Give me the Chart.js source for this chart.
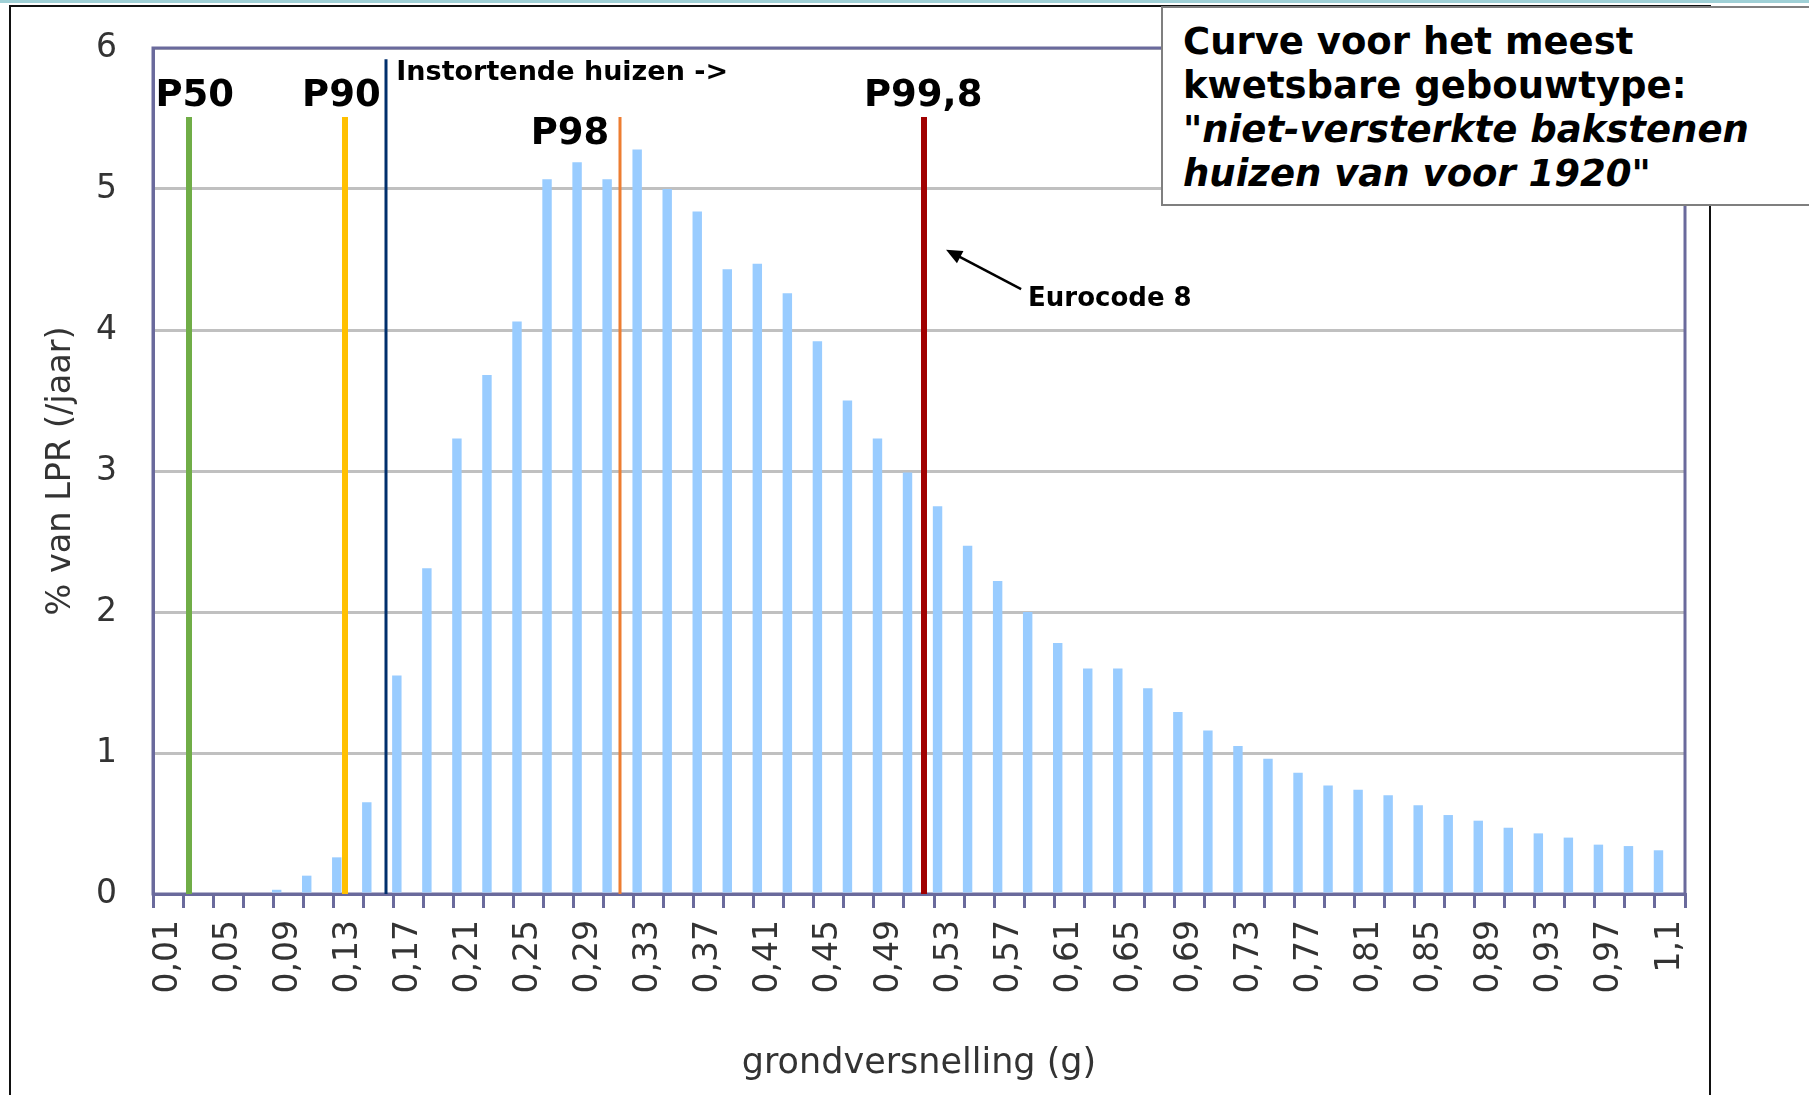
<!DOCTYPE html>
<html>
<head>
<meta charset="utf-8">
<script src="https://cdn.jsdelivr.net/npm/chart.js@4.4.1/dist/chart.umd.min.js"></script>
<style>
html,body{margin:0;padding:0;background:#fff;overflow:hidden;}
#wrap{position:relative;width:1809px;height:1095px;overflow:hidden;}
#band{position:absolute;left:0;top:0;width:1809px;height:3px;background:#9FD0D6;}
#frame{position:absolute;left:9px;top:5px;width:1702px;height:1200px;border:2px solid #111;box-sizing:border-box;}
#c{position:absolute;left:0;top:0;}
#note{position:absolute;left:1161px;top:6px;width:720px;height:200px;border:2px solid #7f7f7f;background:#fff;box-sizing:border-box;
  font:bold 37px "DejaVu Sans",Verdana,sans-serif;line-height:44px;padding:12px 0 0 20px;color:#000;white-space:nowrap;}
</style>
</head>
<body>
<div id="wrap">
  <div id="band"></div>
  <div id="frame"></div>
  <canvas id="c" width="1809" height="1095"></canvas>
  <div id="note">Curve voor het meest<br>kwetsbare gebouwtype:<br>"<i>niet-versterkte bakstenen</i><br><i>huizen van voor 1920</i>"</div>
</div>
<script>
// ---- data ----
const categories = ["0,01","0,03","0,05","0,07","0,09","0,11","0,13","0,15","0,17","0,19",
  "0,21","0,23","0,25","0,27","0,29","0,31","0,33","0,35","0,37","0,39",
  "0,41","0,43","0,45","0,47","0,49","0,51","0,53","0,55","0,57","0,59",
  "0,61","0,63","0,65","0,67","0,69","0,71","0,73","0,75","0,77","0,79",
  "0,81","0,83","0,85","0,87","0,89","0,91","0,93","0,95","0,97","0,99","1,1"];
const lprValues = [0,0,0,0,0.03,0.13,0.26,0.65,1.55,2.31,
  3.23,3.68,4.06,5.07,5.19,5.07,5.28,5.00,4.84,4.43,
  4.47,4.26,3.92,3.50,3.23,2.99,2.75,2.47,2.22,2.00,
  1.78,1.60,1.60,1.46,1.29,1.16,1.05,0.96,0.86,0.77,
  0.74,0.70,0.63,0.56,0.52,0.47,0.43,0.40,0.35,0.34,0.31];
const yTicks = [0,1,2,3,4,5,6];
const markerNames = ["P50","P90","P98","P99,8"];
const markerG = [0.024, 0.128, 0.311, 0.513];   // grondversnelling (g)
const collapseG = 0.155;                          // Instortende huizen
const collapseText = "Instortende huizen ->";
const eurocodeText = "Eurocode 8";

// ---- styling / placement (not data) ----
const markerStyle = [
  {color:"#70AD47", width:6, top:5.51, labelIdx:0.89, labelY:5.66},
  {color:"#FFC000", width:6, top:5.51, labelIdx:5.77, labelY:5.66},
  {color:"#ED7D31", width:3, top:5.51, labelIdx:13.38, labelY:5.39},
  {color:"#A00000", width:6, top:5.51, labelIdx:25.14, labelY:5.66}
];
const collapseStyle = {color:"#002F6C", width:3, top:5.92, labelIdx:7.6, labelY:5.82};
const euro = {textIdx:28.63, textY:4.22, tailIdx:28.4, tailY:4.29, tipIdx:25.9, tipY:4.57};

const gToIndex = g => (g - 0.01) / 0.02;
const AX = "#6A6A9C";
const TXT = "#333333";
const FONT = '"DejaVu Sans", Verdana, sans-serif';

const overlay = {
  id: "overlay",
  beforeDatasetsDraw(chart) {
    const {ctx, chartArea: a} = chart;
    ctx.save();
    ctx.strokeStyle = AX; ctx.lineWidth = 3;
    ctx.strokeRect(a.left, a.top, a.right - a.left, a.bottom - a.top);
    ctx.restore();
  },
  afterDatasetsDraw(chart) {
    const {ctx} = chart;
    const xs = chart.scales.x, ys = chart.scales.y;
    const X = i => xs.getPixelForValue(i);
    const Y = v => ys.getPixelForValue(v);
    ctx.save();
    const line = (idx, st) => {
      const px = Math.round(X(idx));
      ctx.beginPath();
      ctx.strokeStyle = st.color; ctx.lineWidth = st.width;
      ctx.moveTo(px, Y(0)); ctx.lineTo(px, Y(st.top)); ctx.stroke();
    };
    markerG.forEach((g, k) => line(gToIndex(g), markerStyle[k]));
    line(gToIndex(collapseG), collapseStyle);

    ctx.fillStyle = "#000";
    ctx.textBaseline = "middle";
    ctx.font = 'bold 37px ' + FONT;
    ctx.textAlign = "center";
    markerNames.forEach((n, k) => {
      ctx.fillText(n, X(markerStyle[k].labelIdx), Y(markerStyle[k].labelY));
    });
    ctx.font = 'bold 27px ' + FONT;
    ctx.textAlign = "left";
    ctx.fillText(collapseText, X(collapseStyle.labelIdx), Y(collapseStyle.labelY));
    ctx.font = 'bold 26px ' + FONT;
    ctx.fillText(eurocodeText, X(euro.textIdx), Y(euro.textY));

    // arrow
    const x1 = X(euro.tailIdx), y1 = Y(euro.tailY), x2 = X(euro.tipIdx), y2 = Y(euro.tipY);
    const ang = Math.atan2(y2 - y1, x2 - x1);
    const L = 16, W = 7;
    ctx.strokeStyle = "#000"; ctx.lineWidth = 2.5;
    ctx.beginPath();
    ctx.moveTo(x1, y1);
    ctx.lineTo(x2 - Math.cos(ang) * L * 0.8, y2 - Math.sin(ang) * L * 0.8);
    ctx.stroke();
    ctx.beginPath();
    ctx.moveTo(x2, y2);
    ctx.lineTo(x2 - Math.cos(ang) * L - Math.sin(ang) * W, y2 - Math.sin(ang) * L + Math.cos(ang) * W);
    ctx.lineTo(x2 - Math.cos(ang) * L + Math.sin(ang) * W, y2 - Math.sin(ang) * L - Math.cos(ang) * W);
    ctx.closePath();
    ctx.fillStyle = "#000"; ctx.fill();
    ctx.restore();
  }
};

new Chart(document.getElementById("c"), {
  type: "bar",
  data: {
    labels: categories,
    datasets: [
      {label: "% van LPR (/jaar)", data: lprValues, backgroundColor: "#99CCFF", borderWidth: 0},
      {label: "", data: [], backgroundColor: "rgba(0,0,0,0)"}
    ]
  },
  options: {
    responsive: false,
    devicePixelRatio: 1,
    animation: false,
    categoryPercentage: 1.53,
    barPercentage: 0.41,
    layout: {padding: {left: 0, top: 48, right: 124, bottom: 0}},
    plugins: {legend: {display: false}, tooltip: {enabled: false}, title: {display: false}},
    scales: {
      x: {
        offset: true,
        afterFit(s) { s.height = 201; s.paddingLeft = 0; s.paddingRight = 0; },
        grid: {display: true, drawOnChartArea: false, drawTicks: true, tickLength: 14, color: AX, lineWidth: 3, offset: true},
        border: {display: true, color: AX, width: 3},
        ticks: {
          autoSkip: false, maxRotation: 90, minRotation: 90, padding: 12,
          color: TXT, font: {family: FONT, size: 33},
          callback: (v, i) => (i % 2 === 0 ? categories[i] : "")
        },
        title: {display: true, text: "grondversnelling (g)", color: TXT,
          font: {family: FONT, size: 35}, padding: {top: 0, bottom: 10}}
      },
      y: {
        min: 0, max: 6,
        afterFit(s) { s.width = 153; s.paddingTop = 0; s.paddingBottom = 0; },
        afterBuildTicks(s) { s.ticks = yTicks.map(v => ({value: v})); },
        grid: {color: "#C0C0C0", lineWidth: 3, drawTicks: false},
        border: {display: true, color: AX, width: 3},
        ticks: {padding: 36, color: TXT, font: {family: FONT, size: 33}},
        title: {display: true, text: "% van LPR (/jaar)", color: TXT,
          font: {family: FONT, size: 33.5}, padding: {top: 41, bottom: 0}}
      }
    }
  },
  plugins: [overlay]
});
</script>
</body>
</html>
